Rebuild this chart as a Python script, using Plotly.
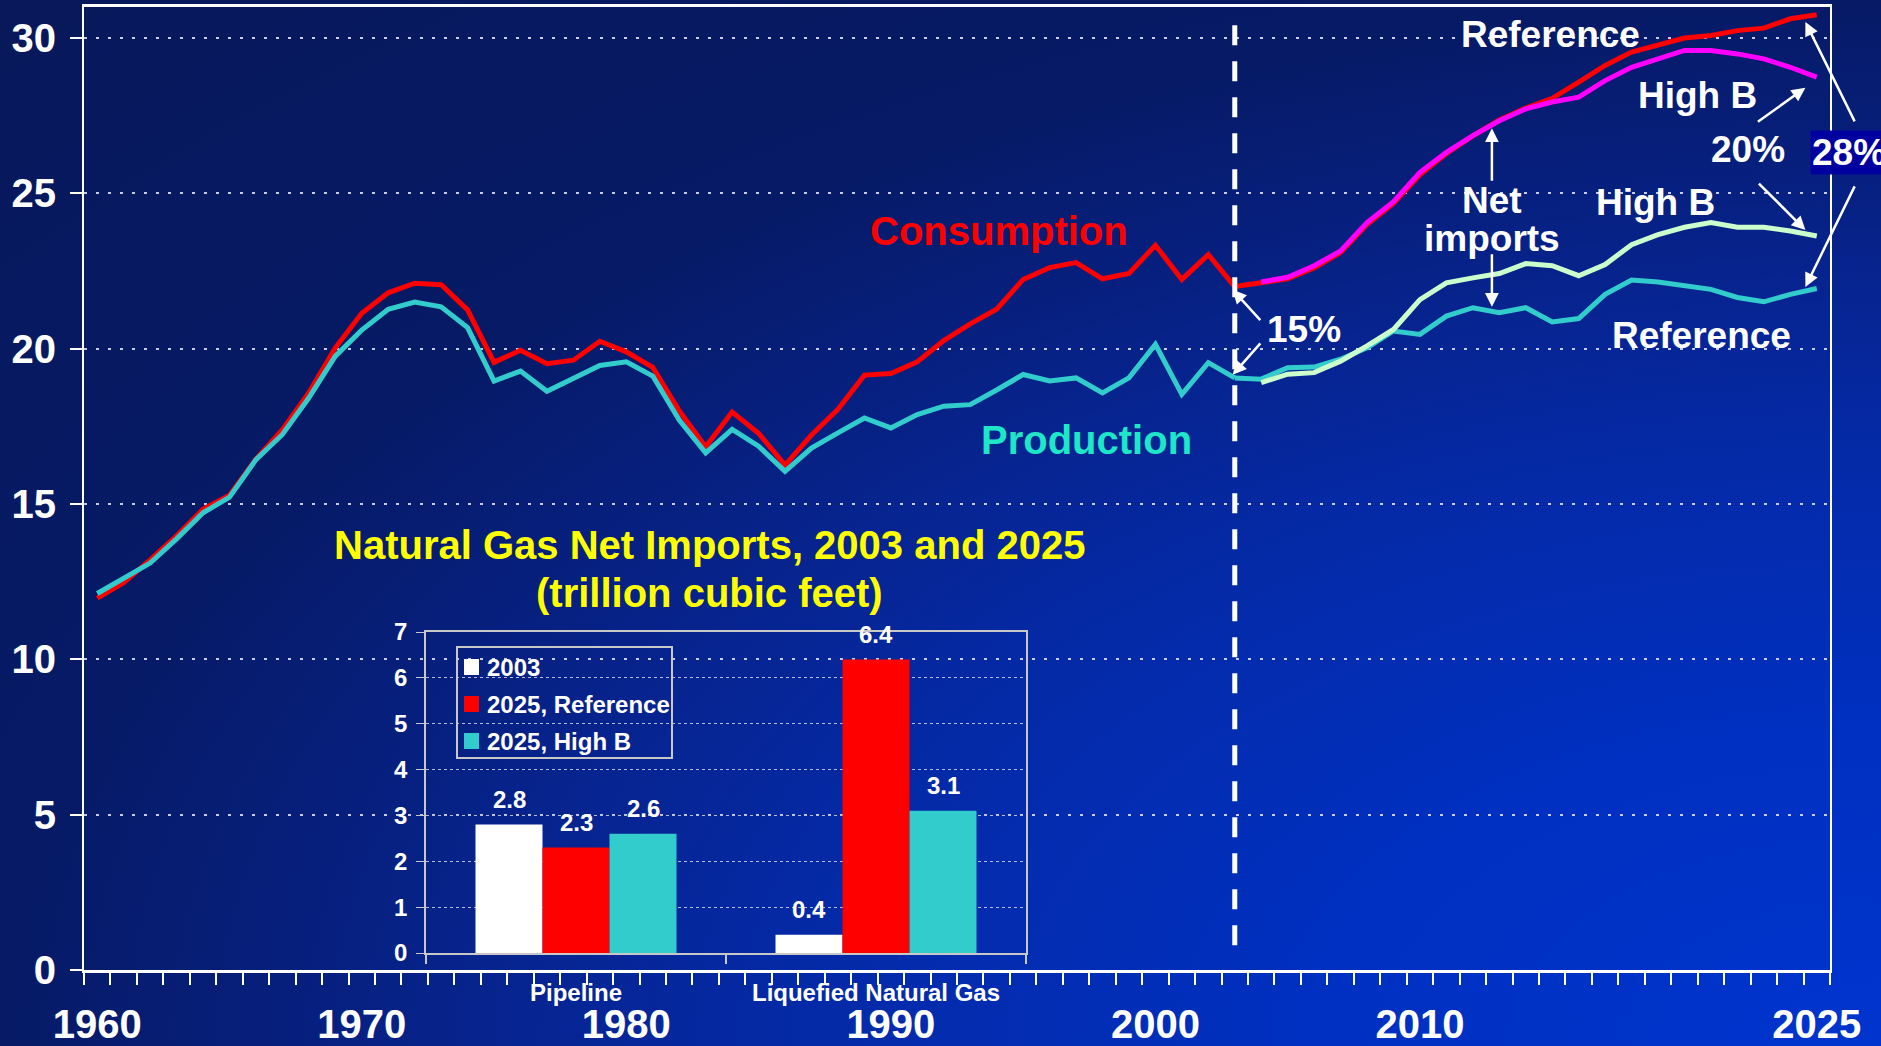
import base64
import plotly.graph_objects as go

# ---- main chart data (trillion cubic feet) ----
hist_years = list(range(1960, 2004))
consumption_hist = [11.97, 12.47, 13.2, 13.98, 14.83, 15.28, 16.45, 17.39, 18.58, 20.03,
                    21.14, 21.8, 22.11, 22.06, 21.25, 19.56, 19.95, 19.52, 19.63, 20.24,
                    19.9, 19.4, 18.0, 16.84, 17.96, 17.28, 16.25, 17.22, 18.05, 19.15,
                    19.2, 19.58, 20.26, 20.8, 21.27, 22.23, 22.61, 22.77, 22.25, 22.42,
                    23.33, 22.23, 23.03, 22.0]
production_hist = [12.12, 12.62, 13.1, 13.88, 14.72, 15.22, 16.43, 17.24, 18.42, 19.76,
                   20.6, 21.27, 21.5, 21.35, 20.68, 18.96, 19.28, 18.63, 19.06, 19.46,
                   19.58, 19.12, 17.7, 16.65, 17.4, 16.86, 16.05, 16.8, 17.29, 17.77,
                   17.45, 17.88, 18.15, 18.2, 18.67, 19.17, 18.96, 19.06, 18.58, 19.06,
                   20.14, 18.53, 19.55, 19.06]

ref_years = list(range(2003, 2026))
consumption_ref = [22.0, 22.12, 22.25, 22.6, 23.1, 24.0, 24.68, 25.6, 26.28, 26.85,
                   27.36, 27.75, 28.06, 28.58, 29.12, 29.55, 29.76, 30.0, 30.08, 30.24,
                   30.32, 30.62, 30.75]
production_ref = [19.06, 19.02, 19.39, 19.41, 19.66, 20.03, 20.57, 20.46, 21.05, 21.32,
                  21.16, 21.32, 20.86, 20.97, 21.75, 22.21, 22.15, 22.04, 21.91, 21.65,
                  21.51, 21.75, 21.94]

highb_years = list(range(2004, 2026))
consumption_highb = [22.15, 22.3, 22.67, 23.15, 24.06, 24.73, 25.68, 26.32, 26.86, 27.34,
                     27.72, 27.94, 28.1, 28.63, 29.06, 29.35, 29.6, 29.6, 29.49, 29.33,
                     29.06, 28.74]
production_highb = [18.91, 19.18, 19.23, 19.6, 20.09, 20.62, 21.58, 22.12, 22.28, 22.42,
                    22.74, 22.67, 22.35, 22.71, 23.35, 23.67, 23.91, 24.06, 23.91, 23.91,
                    23.79, 23.63]

x_tick_years = [1960, 1970, 1980, 1990, 2000, 2010, 2025]
y_tick_vals = [0, 5, 10, 15, 20, 25, 30]

# ---- inset bar chart data ----
inset_categories = ['Pipeline', 'Liquefied Natural Gas']
bar_series = ['2003', '2025, Reference', '2025, High B']
imports_2003 = [2.8, 0.4]
imports_2025_ref = [2.3, 6.4]
imports_2025_highb = [2.6, 3.1]

FONT = 'Liberation Sans, Arial, sans-serif'
W, H = 1881, 1046
ML, MR, MT, MB = 84, 51, 7, 76
PW, PH = W - ML - MR, H - MT - MB
BARGAP = 0.33

RED = '#FF0000'
MAGENTA = '#FF00FF'
TEAL = '#33CCCC'
PALE = '#CCFFCC'
BAR_COLORS = ['#FFFFFF', RED, TEAL]


def bold(size, color='white'):
    return dict(family=FONT, size=size, color=color, weight='bold')


def px_x(px):
    return (px - ML) / PW


def px_y(py):
    return (H - MB - py) / PH


fig = go.Figure()

# lines: history + projections
fig.add_trace(go.Scatter(x=hist_years, y=consumption_hist, mode='lines',
                         line=dict(color=RED, width=5)))
fig.add_trace(go.Scatter(x=hist_years, y=production_hist, mode='lines',
                         line=dict(color=TEAL, width=5)))
fig.add_trace(go.Scatter(x=ref_years, y=consumption_ref, mode='lines',
                         line=dict(color=RED, width=5)))
fig.add_trace(go.Scatter(x=highb_years, y=consumption_highb, mode='lines',
                         line=dict(color=MAGENTA, width=5)))
fig.add_trace(go.Scatter(x=ref_years, y=production_ref, mode='lines',
                         line=dict(color=TEAL, width=5)))
fig.add_trace(go.Scatter(x=highb_years, y=production_highb, mode='lines',
                         line=dict(color=PALE, width=5)))

ann = []

# inset bars + value labels
bar_w = (1 - BARGAP) / 3
for k, (name, vals) in enumerate(zip(bar_series, [imports_2003, imports_2025_ref, imports_2025_highb])):
    fig.add_trace(go.Bar(x=inset_categories, y=vals, name=name,
                         marker=dict(color=BAR_COLORS[k], line=dict(width=0)),
                         xaxis='x2', yaxis='y2'))
    for i, v in enumerate(vals):
        ann.append(dict(x=i + (k - 1) * bar_w, y=v, xref='x2', yref='y2',
                        text=f'{v:.1f}', showarrow=False, font=bold(24),
                        xanchor='center', yanchor='bottom', yshift=10))

# background gradient
svg = ("<svg xmlns='http://www.w3.org/2000/svg' width='1881' height='1046' "
       "viewBox='0 0 1881 1046' preserveAspectRatio='none'><defs>"
       "<radialGradient id='g' cx='1' cy='1' r='1.42' gradientUnits='objectBoundingBox'>"
       "<stop offset='0' stop-color='#0034CE'/>"
       "<stop offset='0.22' stop-color='#0030C0'/>"
       "<stop offset='0.42' stop-color='#0529A4'/>"
       "<stop offset='0.53' stop-color='#07238C'/>"
       "<stop offset='0.70' stop-color='#061A66'/>"
       "<stop offset='1' stop-color='#08185A'/>"
       "</radialGradient></defs>"
       "<rect width='1881' height='1046' fill='url(#g)'/></svg>")
bg_src = 'data:image/svg+xml;base64,' + base64.b64encode(svg.encode()).decode()

shapes = [
    # vertical dashed line at 2003
    dict(type='line', x0=2003, x1=2003, y0=0.8, y1=30.8, xref='x', yref='y',
         line=dict(color='white', width=5, dash='20px,16px')),
    # inset legend box
    dict(type='rect', xref='paper', yref='paper', x0=px_x(457), x1=px_x(672),
         y0=px_y(758), y1=px_y(647), line=dict(color='#C8C8C8', width=2)),
]

# inset legend entries
for k, name in enumerate(bar_series):
    cy = 667 + 37 * k
    shapes.append(dict(type='rect', xref='paper', yref='paper', x0=px_x(464), x1=px_x(479),
                       y0=px_y(cy + 8), y1=px_y(cy - 8),
                       fillcolor=BAR_COLORS[k], line=dict(width=0)))
    ann.append(dict(x=px_x(485), y=px_y(cy), xref='paper', yref='paper', text=name,
                    showarrow=False, font=bold(24), xanchor='left', yanchor='middle'))


def text(x, y, s, size=37, color='white', xref='x', yref='y', **kw):
    ann.append(dict(x=x, y=y, xref=xref, yref=yref, text=s, showarrow=False,
                    font=bold(size, color), xanchor=kw.pop('xanchor', 'center'),
                    yanchor=kw.pop('yanchor', 'middle'), **kw))


def arrow(x, y, ax, ay):
    ann.append(dict(x=x, y=y, xref='x', yref='y', ax=ax, ay=ay, text='',
                    showarrow=True, arrowhead=2, arrowsize=1.1, arrowwidth=2.5,
                    arrowcolor='white', standoff=0, startstandoff=0))


text(1994.1, 23.8, 'Consumption', size=40, color=RED)
text(1997.4, 17.05, 'Production', size=40, color='#1EE6C8')
text(2014.95, 30.1, 'Reference')
text(2020.5, 28.15, 'High B')
text(2022.4, 26.4, '20%')
text(2012.74, 24.77, 'Net')
text(2012.74, 23.55, 'imports')
text(2018.9, 24.7, 'High B')
text(2020.65, 20.44, 'Reference')
text(2005.6, 20.62, '15%')
text(px_x(1810), px_y(152.5), '28%', xref='paper', yref='paper',
     xanchor='left', bgcolor='#0000A0', borderpad=1)
text(1983.15, 13.68, 'Natural Gas Net Imports, 2003 and 2025', size=40, color='#FFFF00')
text(1983.15, 12.14, '(trillion cubic feet)', size=40, color='#FFFF00')

arrow(2002.92, 21.9, 29, 32)
arrow(2002.92, 19.16, 29, -33)
arrow(2012.72, 27.1, 0, 54)
arrow(2012.72, 21.35, 0, -54)
arrow(2024.57, 28.4, -49, 35)
arrow(2024.57, 23.82, -48, -48)
arrow(2024.57, 30.52, 50, 101)
arrow(2024.57, 21.99, 50, -102)

fig.update_layout(
    width=W, height=H,
    margin=dict(l=ML, r=MR, t=MT, b=MB, pad=0, autoexpand=False),
    paper_bgcolor='#061A64', plot_bgcolor='rgba(0,0,0,0)',
    font=dict(family=FONT, color='white'),
    showlegend=False,
    images=[dict(source=bg_src, xref='paper', yref='paper', x=-ML / PW, y=1 + MT / PH,
                 sizex=W / PW, sizey=H / PH, xanchor='left', yanchor='top',
                 sizing='stretch', layer='below')],
    xaxis=dict(range=[1959.5, 2025.5], tickmode='array', tickvals=x_tick_years, ticks='',
               showgrid=False, zeroline=False, showline=True, linecolor='white',
               linewidth=3, mirror=True, tickfont=bold(40), ticklabelstandoff=17,
               minor=dict(ticks='outside', tickmode='array',
                          tickvals=[1959.5 + i for i in range(67)],
                          ticklen=12, tickwidth=2, tickcolor='white', showgrid=False)),
    yaxis=dict(range=[0, 31], tickmode='array', tickvals=y_tick_vals, ticks='outside',
               ticklen=12, tickwidth=2, tickcolor='white', showline=True,
               linecolor='white', linewidth=2, mirror=True, zeroline=False,
               showgrid=True, gridcolor='#C8CCE0', gridwidth=2, griddash='3px,9px',
               tickfont=bold(40), ticklabelstandoff=6),
    xaxis2=dict(domain=[px_x(426), px_x(1026)], anchor='y2', type='category',
                range=[-0.5, 1.5],
                showline=True, linecolor='#C8C8C8', linewidth=2, mirror=True,
                ticks='outside', tickson='boundaries', ticklen=9, tickwidth=2,
                tickcolor='#C8C8C8', tickfont=bold(24), ticklabelstandoff=17,
                showgrid=False),
    yaxis2=dict(domain=[px_y(953), px_y(632)], anchor='x2', range=[0, 7], dtick=1,
                ticks='outside', ticklen=8, tickwidth=1, tickcolor='#C8C8C8',
                showline=True, linecolor='#C8C8C8', linewidth=1.5, mirror=True,
                showgrid=True, gridcolor='#B8BCD0', gridwidth=1, griddash='dot',
                zeroline=False, tickfont=bold(24), ticklabelstandoff=4),
    barmode='group', bargap=BARGAP, bargroupgap=0,
    shapes=shapes,
    annotations=ann,
)

fig.write_html('out.html', config={'displayModeBar': False},
               post_script="document.body.style.margin='0';"
                           "document.body.style.overflow='hidden';")
